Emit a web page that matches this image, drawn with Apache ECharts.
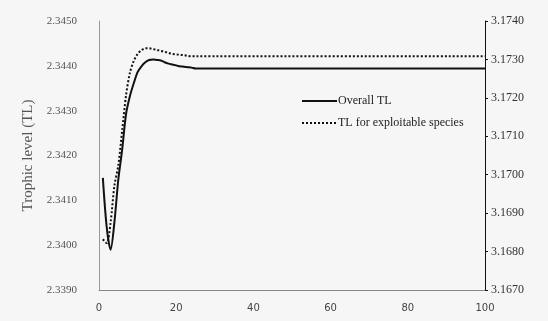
<!DOCTYPE html>
<html>
<head>
<meta charset="utf-8">
<script src="https://cdn.jsdelivr.net/npm/echarts@6/dist/echarts.min.js"></script>
<style>
html,body{margin:0;padding:0;background:#f6f6f6;}
#c{width:548px;height:321px;}
</style>
</head>
<body>
<div id="c"></div>
<script>
var timeSteps = [1,2,3,4,5,6,7,8,9,10,11,12,13,14,15,16,17,18,19,20,21,22,23,24,25,100];
var overallTL = [2.3415,2.3404,2.33990,2.34052,2.34146,2.34213,2.34292,2.34332,2.34361,2.34386,2.34399,2.34408,2.34413,2.34414,2.34413,2.34412,2.34408,2.34405,2.34403,2.34401,2.34399,2.34398,2.34397,2.34396,2.34394,2.34394];
var exploitableTL = [3.16832,3.16822,3.16876,3.16972,3.17024,3.17115,3.17206,3.17265,3.17296,3.17314,3.17324,3.17329,3.17329,3.17327,3.17325,3.17322,3.17320,3.17317,3.17314,3.17313,3.17312,3.17311,3.17309,3.17308,3.17308,3.17308];
var seriesNames = ['Overall TL','TL for exploitable species'];
var leftAxisName = 'Trophic level (TL)';

function pairs(xs, ys){ return xs.map(function(x,i){ return [x, ys[i]]; }); }

var chart = echarts.init(document.getElementById('c'));
chart.setOption({
  backgroundColor: '#f6f6f6',
  animation: false,
  grid: {left: 99, right: 63, top: 21, bottom: 31},
  legend: {
    orient: 'vertical', left: 296, top: 90, itemWidth: 35, itemHeight: 10, itemGap: 10,
    itemStyle: {opacity: 0},
    textStyle: {fontFamily: 'Liberation Serif', fontSize: 12, color: '#222', padding: [0,0,0,-4]},
    data: seriesNames
  },
  xAxis: {
    type: 'value', min: 0, max: 100, interval: 20,
    axisLine: {lineStyle: {color: '#888', width: 1}},
    axisTick: {show: false},
    splitLine: {show: false},
    axisLabel: {fontFamily: 'DejaVu Sans', fontSize: 10, color: '#444', margin: 13}
  },
  yAxis: [{
    type: 'value', min: 2.339, max: 2.345, interval: 0.001,
    position: 'left',
    name: leftAxisName, nameLocation: 'middle', nameGap: 62, nameRotate: 90,
    nameTextStyle: {fontFamily: 'Liberation Serif', fontSize: 15, color: '#555'},
    axisLine: {show: true, lineStyle: {color: '#999', width: 1}},
    axisTick: {show: false},
    splitLine: {show: false},
    axisLabel: {fontFamily: 'Liberation Serif', fontSize: 11, color: '#555', margin: 22,
      formatter: function(v){ return v.toFixed(4); }}
  }, {
    type: 'value', min: 3.167, max: 3.174, interval: 0.001,
    position: 'right',
    axisLine: {show: true, lineStyle: {color: '#111', width: 1}},
    axisTick: {show: true, length: 3, inside: false, lineStyle: {color: '#111'}},
    splitLine: {show: false},
    axisLabel: {fontFamily: 'Liberation Serif', fontSize: 12, color: '#333', margin: 6,
      formatter: function(v){ return v.toFixed(4); }}
  }],
  series: [{
    name: seriesNames[0], type: 'line', yAxisIndex: 0, symbol: 'none', smooth: 0.3,
    lineStyle: {color: '#111', width: 2},
    itemStyle: {color: '#111'},
    data: pairs(timeSteps, overallTL)
  }, {
    name: seriesNames[1], type: 'line', yAxisIndex: 1, symbol: 'none', smooth: 0.3,
    lineStyle: {color: '#111', width: 2, type: [2,2]},
    itemStyle: {color: '#111'},
    data: pairs(timeSteps, exploitableTL)
  }]
});
</script>
</body>
</html>
